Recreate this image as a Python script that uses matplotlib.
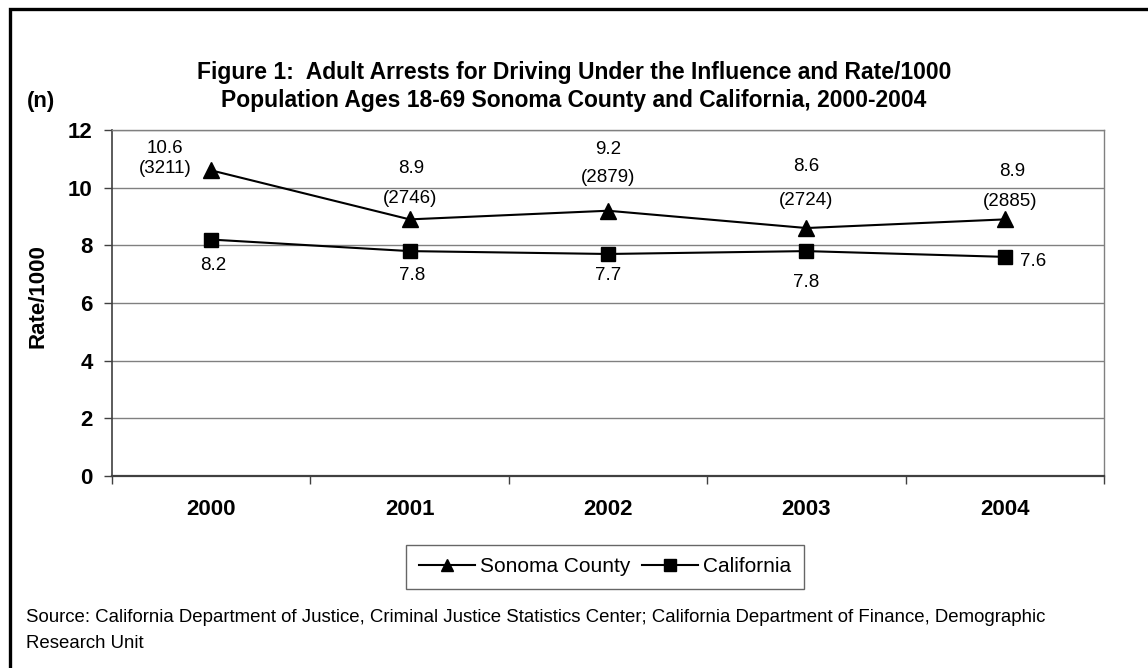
import matplotlib
matplotlib.use("Agg")
import matplotlib.pyplot as plt
from matplotlib.patches import Rectangle
from matplotlib.lines import Line2D

plt.rcParams['font.family'] = ['Liberation Sans', 'DejaVu Sans']

years = ["2000", "2001", "2002", "2003", "2004"]
sonoma_rate = [10.6, 8.9, 9.2, 8.6, 8.9]
sonoma_arrests = [3211, 2746, 2879, 2724, 2885]
california_rate = [8.2, 7.8, 7.7, 7.8, 7.6]

# label offsets (pixels) relative to each point
sonoma_rate_off = [(-46, 22), (2, 51), (0, 61), (0, 62), (7, 48)]
sonoma_n_off = [(-46, 2), (0, 21), (0, 33), (0, 28), (5, 18)]
california_off = [(2, -26), (3, -24), (0, -22), (0, -31), (28, -5)]

W, H = 1148, 668
fig = plt.figure(figsize=(W / 100, H / 100), dpi=100)
fig.patch.set_facecolor("white")

# outer frame (only top and left edges fall inside the canvas)
fig.add_artist(Rectangle((9.5 / W, -0.1), 1.2, 1.1 - 9.5 / H,
                         transform=fig.transFigure, fill=False,
                         edgecolor="black", linewidth=2.4, clip_on=False))

ax = fig.add_axes([112 / W, (H - 476) / H, (1104 - 112) / W, (476 - 130) / H])

x = list(range(len(years)))
ax.plot(x, sonoma_rate, color="black", linewidth=1.5, marker="^",
        markersize=11, zorder=3)
ax.plot(x, california_rate, color="black", linewidth=1.5, marker="s",
        markersize=10, zorder=3)

ax.set_xlim(-0.5, len(years) - 0.5)
ax.set_ylim(0, 12)
ax.set_yticks(range(0, 13, 2))
ax.yaxis.grid(True, color="#808080", linewidth=1.0)
ax.set_axisbelow(True)

ax.set_xticks([i - 0.5 for i in range(len(years) + 1)])
ax.set_xticklabels([])
ax.set_xticks(x, minor=True)
ax.set_xticklabels(years, minor=True, fontsize=16, fontweight="bold")
ax.tick_params(axis="x", which="minor", length=0, pad=16.5)
ax.tick_params(axis="x", which="major", length=6, width=1, color="#404040")
ax.tick_params(axis="y", length=6, width=1, color="#404040", pad=8,
               labelsize=16)
for lbl in ax.get_yticklabels():
    lbl.set_fontweight("bold")

for side in ("top", "right"):
    ax.spines[side].set_color("#808080")
    ax.spines[side].set_linewidth(1.0)
ax.spines["left"].set_color("#404040")
ax.spines["bottom"].set_color("#404040")
ax.spines["left"].set_linewidth(1.2)
ax.spines["bottom"].set_linewidth(1.6)

fig.text(38 / W, 1 - 296 / H, "Rate/1000", rotation=90, ha="center",
         va="center", fontsize=16, fontweight="bold")

for i in x:
    ax.annotate(f"{sonoma_rate[i]:.1f}", (i, sonoma_rate[i]),
                xytext=sonoma_rate_off[i], textcoords="offset pixels",
                ha="center", va="center", fontsize=13.5)
    ax.annotate(f"({sonoma_arrests[i]})", (i, sonoma_rate[i]),
                xytext=sonoma_n_off[i], textcoords="offset pixels",
                ha="center", va="center", fontsize=13.5)
    ax.annotate(f"{california_rate[i]:.1f}", (i, california_rate[i]),
                xytext=california_off[i], textcoords="offset pixels",
                ha="center", va="center", fontsize=13.5)

fig.text(0.5, 1 - 73 / H,
         "Figure 1:  Adult Arrests for Driving Under the Influence and Rate/1000",
         ha="center", va="center", fontsize=16.5, fontweight="bold")
fig.text(0.5, 1 - 101 / H,
         "Population Ages 18-69 Sonoma County and California, 2000-2004",
         ha="center", va="center", fontsize=16.5, fontweight="bold")
fig.text(41 / W, 1 - 102 / H, "(n)", ha="center", va="center",
         fontsize=16, fontweight="bold")

handles = [
    Line2D([], [], color="black", linewidth=1.5, marker="^", markersize=9),
    Line2D([], [], color="black", linewidth=1.5, marker="s", markersize=8),
]
leg = fig.legend(handles, ["Sonoma County", "California"],
                 loc="center", bbox_to_anchor=(605 / W, 1 - 566.5 / H),
                 ncol=2, frameon=True, fancybox=False, fontsize=15,
                 handlelength=2.7, handletextpad=0.25, columnspacing=0.55,
                 borderpad=0.6, borderaxespad=0)
leg.get_frame().set_edgecolor("#404040")
leg.get_frame().set_linewidth(1.0)

fig.text(26 / W, 1 - 618 / H,
         "Source: California Department of Justice, Criminal Justice Statistics "
         "Center; California Department of Finance, Demographic",
         ha="left", va="center", fontsize=13.4)
fig.text(26 / W, 1 - 643 / H, "Research Unit", ha="left", va="center",
         fontsize=13.4)

fig.savefig("out.png", dpi=100, facecolor="white")
